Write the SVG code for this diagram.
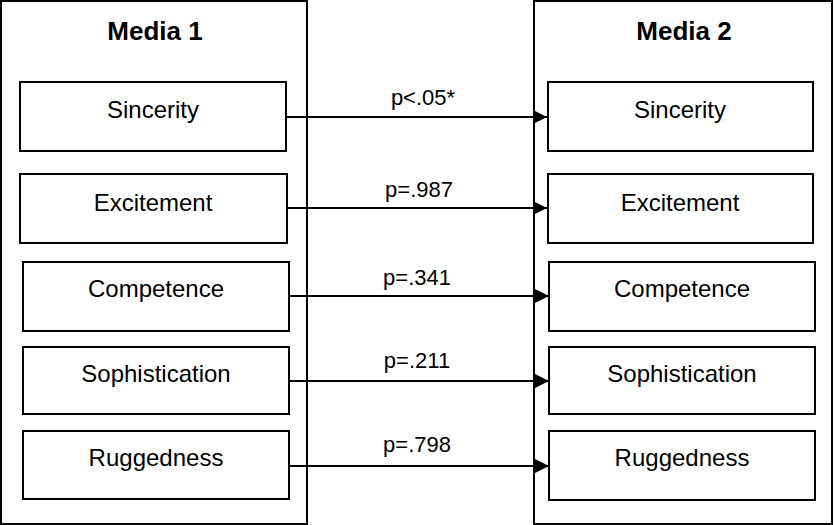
<svg xmlns="http://www.w3.org/2000/svg" width="834" height="525" viewBox="0 0 834 525">
<defs>
<style>
.outer{fill:#fff;stroke:#000;stroke-width:2}
.box{fill:#fff;stroke:#000;stroke-width:2}
.t{font-family:"Liberation Sans",Arial,sans-serif;font-size:24px;text-anchor:middle;fill:#000}
.h{font-family:"Liberation Sans",Arial,sans-serif;font-size:26px;font-weight:bold;text-anchor:middle;fill:#000}
.p{font-family:"Liberation Sans",Arial,sans-serif;font-size:22px;text-anchor:middle;fill:#000}
.c{stroke:#000;stroke-width:2;fill:none;marker-end:url(#arr)}
</style>
<marker id="arr" markerWidth="14" markerHeight="14" refX="14" refY="7" orient="auto" markerUnits="userSpaceOnUse">
<path d="M0,0 L14,7 L0,14 Z" fill="#000"/>
</marker>
</defs>
<g id="media1">
<rect class="outer" x="1" y="1" width="306" height="523"/>
<text class="h" x="155" y="40">Media 1</text>
</g>
<g id="media2">
<rect class="outer" x="534" y="1" width="298" height="523"/>
<text class="h" x="684" y="40">Media 2</text>
</g>
<g id="m1-sincerity"><rect class="box" x="20" y="82" width="266" height="69"/><text class="t" x="153" y="118">Sincerity</text></g>
<g id="m1-excitement"><rect class="box" x="20" y="174" width="267" height="69"/><text class="t" x="153" y="211">Excitement</text></g>
<g id="m1-competence"><rect class="box" x="23" y="262" width="266" height="69"/><text class="t" x="156" y="297">Competence</text></g>
<g id="m1-sophistication"><rect class="box" x="23" y="347" width="266" height="67"/><text class="t" x="156" y="382">Sophistication</text></g>
<g id="m1-ruggedness"><rect class="box" x="23" y="431" width="266" height="68"/><text class="t" x="156" y="466">Ruggedness</text></g>
<g id="m2-sincerity"><rect class="box" x="548" y="82" width="265" height="69"/><text class="t" x="680" y="118">Sincerity</text></g>
<g id="m2-excitement"><rect class="box" x="548" y="174" width="265" height="69"/><text class="t" x="680" y="211">Excitement</text></g>
<g id="m2-competence"><rect class="box" x="549" y="262" width="266" height="69"/><text class="t" x="682" y="297">Competence</text></g>
<g id="m2-sophistication"><rect class="box" x="549" y="347" width="266" height="67"/><text class="t" x="682" y="382">Sophistication</text></g>
<g id="m2-ruggedness"><rect class="box" x="549" y="431" width="266" height="69"/><text class="t" x="682" y="466">Ruggedness</text></g>
<g id="connectors">
<line class="c" x1="286" y1="117" x2="547" y2="117"/>
<line class="c" x1="287" y1="208" x2="547" y2="208"/>
<line class="c" x1="289" y1="296" x2="549" y2="296"/>
<line class="c" x1="289" y1="381" x2="549" y2="381"/>
<line class="c" x1="289" y1="466" x2="549" y2="466"/>
<text class="p" x="423" y="105">p&lt;.05*</text>
<text class="p" x="419" y="197">p=.987</text>
<text class="p" x="417" y="285">p=.341</text>
<text class="p" x="417" y="368">p=.211</text>
<text class="p" x="417" y="452">p=.798</text>
</g>
</svg>
